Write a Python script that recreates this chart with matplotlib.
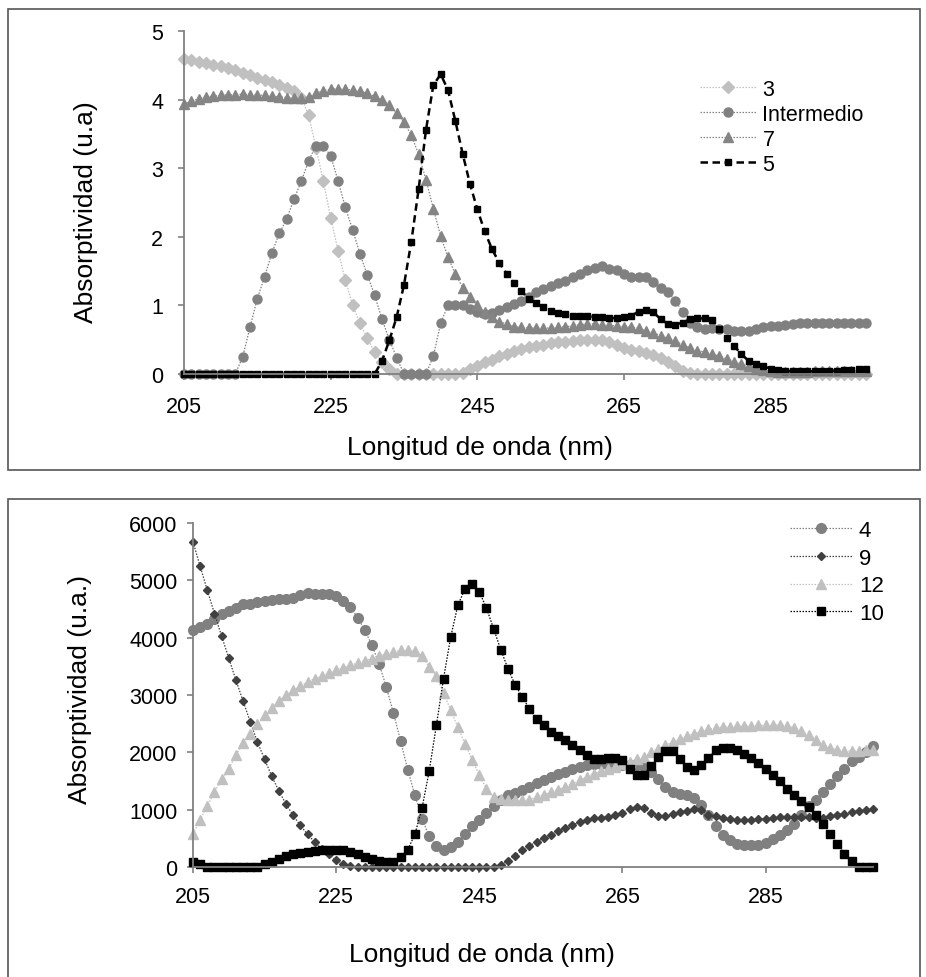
import matplotlib.pyplot as plt
from matplotlib.patches import Rectangle

W, H = 926, 978

# wavelength grid (nm)
wl_top = list(range(205, 299))
wl_bot = list(range(205, 301))

# --- upper panel: absorptivity (u.a) ---
abs_3 = [4.59, 4.57, 4.55, 4.53, 4.51, 4.49, 4.46, 4.43, 4.39, 4.36,
         4.32, 4.28, 4.25, 4.21, 4.17, 4.13, 4.03, 3.77, 3.30, 2.81,
         2.28, 1.80, 1.37, 1.00, 0.74, 0.52, 0.32, 0.17, 0.07, 0.0,
         0, 0, 0, 0, 0, 0, 0, 0,
         0.02, 0.07, 0.12, 0.17, 0.21, 0.26, 0.29, 0.33, 0.36, 0.39,
         0.41, 0.43, 0.45, 0.46, 0.47, 0.48, 0.49, 0.49, 0.50, 0.50,
         0.46, 0.42, 0.38, 0.35, 0.33, 0.31, 0.28, 0.23, 0.17, 0.11,
         0.05, 0.01,
         0, 0, 0, 0, 0, 0, 0, 0, 0, 0, 0, 0,
         0, 0, 0, 0, 0, 0, 0, 0, 0, 0, 0, 0]

abs_int = [0, 0, 0, 0, 0, 0, 0, 0,
           0.25, 0.68, 1.10, 1.42, 1.77, 2.05, 2.26, 2.55, 2.81, 3.11,
           3.33, 3.33, 3.18, 2.82, 2.43, 2.10, 1.75, 1.44, 1.15, 0.80,
           0.50, 0.24, 0, 0, 0, 0, 0.26, 0.74, 1.00, 1.01,
           1.00, 0.95, 0.90, 0.87, 0.89, 0.94, 0.97, 1.02, 1.07, 1.12,
           1.19, 1.24, 1.29, 1.33, 1.36, 1.41, 1.46, 1.51, 1.54, 1.57,
           1.53, 1.51, 1.46, 1.42, 1.41, 1.41, 1.34, 1.26, 1.19, 1.07,
           0.90, 0.75, 0.68, 0.66, 0.67, 0.66, 0.65, 0.63, 0.63, 0.63,
           0.66, 0.68, 0.70, 0.70, 0.72, 0.73, 0.74, 0.74, 0.75, 0.75,
           0.75, 0.75, 0.75, 0.75, 0.75, 0.75]

abs_7 = [3.93, 3.98, 4.01, 4.04, 4.05, 4.06, 4.07, 4.07, 4.08, 4.07,
         4.07, 4.06, 4.05, 4.04, 4.03, 4.02, 4.02, 4.04, 4.09, 4.13,
         4.15, 4.16, 4.15, 4.14, 4.12, 4.09, 4.05, 4.00, 3.92, 3.80,
         3.67, 3.48, 3.20, 2.83, 2.41, 2.01, 1.70, 1.46, 1.26, 1.12,
         1.00, 0.90, 0.83, 0.76, 0.73, 0.69, 0.68, 0.67, 0.67, 0.67,
         0.67, 0.68, 0.69, 0.70, 0.72, 0.73, 0.73, 0.72, 0.71, 0.70,
         0.69, 0.68, 0.67, 0.63, 0.60, 0.56, 0.52, 0.48, 0.43, 0.38,
         0.34, 0.32, 0.29, 0.26, 0.22, 0.18, 0.15, 0.11, 0.08, 0.06,
         0.04, 0.03, 0.03, 0.03, 0.03, 0.03, 0.04, 0.04, 0.04, 0.04,
         0.04, 0.04, 0.05, 0.05]

abs_5 = [0, 0, 0, 0, 0, 0, 0, 0, 0, 0,
         0, 0, 0, 0, 0, 0, 0, 0, 0, 0,
         0, 0, 0, 0, 0, 0, 0,
         0.19, 0.49, 0.83, 1.30, 1.93, 2.70, 3.56, 4.21, 4.37, 4.14,
         3.69, 3.21, 2.77, 2.40, 2.08, 1.82, 1.62, 1.46, 1.33, 1.21,
         1.10, 1.03, 0.97, 0.92, 0.89, 0.87, 0.85, 0.84, 0.84, 0.83,
         0.83, 0.81, 0.82, 0.83, 0.85, 0.91, 0.94, 0.90, 0.80, 0.73,
         0.72, 0.75, 0.80, 0.81, 0.81, 0.78, 0.66, 0.53, 0.41, 0.29,
         0.19, 0.15, 0.11, 0.08, 0.06, 0.05, 0.04, 0.04, 0.04, 0.04,
         0.05, 0.05, 0.05, 0.06, 0.06, 0.07, 0.07]

# --- lower panel: absorptivity (u.a.) ---
abs_4 = [4140, 4190, 4245, 4330, 4420, 4460, 4515, 4580, 4595, 4620,
         4640, 4650, 4680, 4670, 4700, 4740, 4785, 4755, 4765, 4765,
         4725, 4640, 4535, 4350, 4130, 3865, 3545, 3140, 2690, 2200,
         1700, 1250, 845, 535, 360, 300, 350, 435, 570, 710,
         825, 940, 1060, 1175, 1250, 1290, 1350, 1400, 1460, 1520,
         1575, 1620, 1665, 1710, 1750, 1780, 1795, 1800, 1800, 1790,
         1785, 1785, 1780, 1770, 1655, 1530, 1395, 1310, 1280, 1260,
         1205, 1090, 915, 715, 555, 465, 400, 378, 378, 390,
         425, 485, 550, 640, 755, 900, 1065, 1175, 1310, 1455,
         1590, 1715, 1845, 1920, 2005, 2110]

abs_9 = [5670, 5245, 4825, 4420, 4025, 3645, 3255, 2895, 2530, 2180,
         1880, 1585, 1325, 1095, 900, 725, 570, 435, 320, 220,
         115, 45, 12,
         0, 0, 0, 0, 0, 0, 0, 0, 0, 0,
         0, 0, 0, 0, 0, 0, 0, 0, 0, 0,
         30, 110, 200, 290, 370, 440, 505, 565, 620, 675,
         730, 785, 825, 850, 862, 866, 900, 950, 1010, 1040,
         1030, 950, 885, 885, 920, 955, 985, 1005, 990, 915,
         885, 855, 830, 815, 815, 825, 830, 843, 855, 865,
         870, 872, 872, 878, 860, 855, 890, 913, 930, 959,
         977, 988, 1006]

abs_12 = [580, 825, 1060, 1310, 1530, 1715, 1950, 2165, 2325, 2490,
          2645, 2775, 2895, 2995, 3080, 3155, 3225, 3285, 3330, 3385,
          3430, 3475, 3515, 3560, 3595, 3635, 3675, 3720, 3750, 3780,
          3780, 3760, 3675, 3490, 3325, 3040, 2735, 2440, 2150, 1870,
          1600, 1365, 1220, 1180, 1165, 1160, 1160, 1175, 1220, 1260,
          1305, 1350, 1395, 1455, 1510, 1570, 1630, 1670, 1715, 1745,
          1800, 1830, 1880, 1920, 2005, 2065, 2120, 2180, 2225, 2280,
          2325, 2365, 2400, 2425, 2440, 2440, 2455, 2460, 2460, 2470,
          2470, 2470, 2480, 2460, 2425, 2365, 2295, 2210, 2135, 2075,
          2045, 2025, 2020, 2030, 2035, 2035]

abs_10 = [85, 45, 0, 0, 0, 0, 0, 0, 0, 0,
          45, 85, 145, 185, 220, 245, 260, 280, 290, 300,
          300, 290, 260, 220, 175, 135, 105, 85, 85, 175,
          300, 570, 1030, 1675, 2470, 3285, 4010, 4565, 4855, 4940,
          4800, 4515, 4155, 3790, 3460, 3180, 2965, 2760, 2590, 2470,
          2355, 2285, 2210, 2120, 2035, 1950, 1890, 1890, 1900, 1900,
          1860, 1715, 1610, 1610, 1760, 1920, 2015, 2015, 1890, 1745,
          1685, 1785, 1900, 2035, 2075, 2075, 2035, 1975, 1900, 1820,
          1715, 1610, 1495, 1365, 1250, 1145, 1045, 900, 755, 580,
          405, 235, 100, 0, 0, 0]

plt.rcParams['font.family'] = ['Liberation Sans', 'DejaVu Sans']

fig = plt.figure(figsize=(W / 100, H / 100), dpi=100)


def px_axes(left, top, right, bottom):
    return fig.add_axes([left / W, 1 - bottom / H, (right - left) / W, (bottom - top) / H])


def style_axes(ax, xpad, ypad):
    for side in ('top', 'right'):
        ax.spines[side].set_visible(False)
    for side in ('left', 'bottom'):
        ax.spines[side].set_color('#808080')
        ax.spines[side].set_linewidth(1.3)
    ax.tick_params(axis='both', direction='out', length=4, width=1.2,
                   color='#808080', labelsize=15.5, labelcolor='black')
    ax.tick_params(axis='x', pad=xpad)
    ax.tick_params(axis='y', pad=ypad)
    ax.set_xticks([205, 225, 245, 265, 285])
    ax.patch.set_alpha(0)


dot = (0, (1.2, 1.2))

# upper panel
ax1 = px_axes(184, 32, 866, 375)
ax1.plot(wl_top, abs_3, color='#c0c0c0', ls=dot, lw=0.9, marker='D', ms=6,
         mec='#c0c0c0', label='3', clip_on=False)
ax1.plot(wl_top, abs_int, color='#808080', ls=dot, lw=0.9, marker='o', ms=6.5,
         mec='#808080', label='Intermedio', clip_on=False)
ax1.plot(wl_top, abs_7, color='#858585', ls=dot, lw=0.9, marker='^', ms=6.5,
         mec='#858585', label='7', clip_on=False)
ax1.plot(wl_top, abs_5, color='black', ls=(0, (3, 1.8)), lw=1.8, marker='s', ms=5,
         mec='black', label='5', clip_on=False)
ax1.set_xlim(205, 298)
ax1.set_ylim(0, 5)
ax1.set_yticks([0, 1, 2, 3, 4, 5])
style_axes(ax1, 12, 11)
ax1.legend(loc='upper left', bbox_to_anchor=(700 / W, 1 - 80 / H),
           bbox_transform=fig.transFigure, frameon=False, fontsize=15.5,
           numpoints=1, handlelength=2.6, handletextpad=0.3,
           labelspacing=0.18, borderpad=0, borderaxespad=0)

# lower panel
ax2 = px_axes(193, 524, 873, 868)
ax2.plot(wl_bot, abs_4, color='#808080', ls=dot, lw=0.9, marker='o', ms=7,
         mec='#808080', label='4', clip_on=False)
ax2.plot(wl_bot, abs_9, color='#404040', ls=dot, lw=0.9, marker='D', ms=4.2,
         mec='#404040', label='9', clip_on=False)
ax2.plot(wl_bot, abs_12, color='#c0c0c0', ls=dot, lw=0.9, marker='^', ms=7,
         mec='#c0c0c0', label='12', clip_on=False)
ax2.plot(wl_bot, abs_10, color='black', ls=dot, lw=0.9, marker='s', ms=6,
         mec='black', label='10', clip_on=False)
ax2.set_xlim(205, 300)
ax2.set_ylim(0, 6000)
ax2.set_yticks([0, 1000, 2000, 3000, 4000, 5000, 6000])
style_axes(ax2, 10, 7)
ax2.legend(loc='upper left', bbox_to_anchor=(790 / W, 1 - 521 / H),
           bbox_transform=fig.transFigure, frameon=False, fontsize=16,
           numpoints=1, handlelength=2.8, handletextpad=0.3,
           labelspacing=0.3, borderpad=0, borderaxespad=0)

# axis titles
fig.text(480 / W, 1 - 448 / H, 'Longitud de onda (nm)', ha='center', va='center', fontsize=19)
fig.text(86 / W, 1 - 212 / H, 'Absorptividad (u.a)', ha='center', va='center',
         rotation=90, fontsize=19)
fig.text(482 / W, 1 - 955 / H, 'Longitud de onda (nm)', ha='center', va='center', fontsize=19)
fig.text(80 / W, 1 - 690 / H, 'Absorptividad (u.a.)', ha='center', va='center',
         rotation=90, fontsize=19)

# chart frames
fig.add_artist(Rectangle((8 / W, 1 - 471 / H), 912 / W, 461 / H, transform=fig.transFigure,
                         fill=False, edgecolor='#555555', lw=1.2))
fig.add_artist(Rectangle((8 / W, -0.01), 912 / W, 1 - 500 / H + 0.01, transform=fig.transFigure,
                         fill=False, edgecolor='#555555', lw=1.2))

fig.savefig('out.png', dpi=100)
